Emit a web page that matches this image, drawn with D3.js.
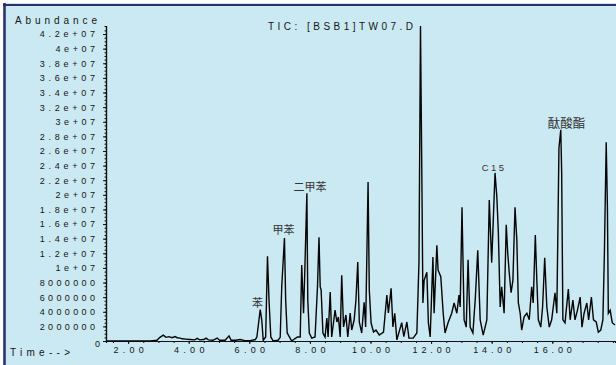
<!DOCTYPE html>
<html>
<head>
<meta charset="utf-8">
<script src="https://cdn.jsdelivr.net/npm/d3@7"></script>
<style>
  body { margin: 0; background: #fff; }
  svg { display: block; }
  .axis text { font-family: "Liberation Sans", Arial, sans-serif; font-size: 9px; fill: #151515; }
  .axis path, .axis line { stroke: #111; }
</style>
</head>
<body>
<div id="chart"></div>
<script>
// retention time (min) and abundance (millions of counts)
const retentionTime = [
  1.27, 2.73, 2.95, 3.05, 3.16, 3.25, 3.35, 3.45, 3.55, 3.62, 3.72, 3.78, 3.90, 4.05, 4.20, 4.28, 4.36, 4.50, 4.57, 4.65,
  4.80, 4.94, 5.02, 5.20, 5.33, 5.40, 5.55, 5.70, 5.85, 6.03, 6.20, 6.25, 6.36, 6.41, 6.46, 6.54, 6.60, 6.65, 6.71, 6.79,
  6.95, 7.02, 7.07, 7.16, 7.20, 7.25, 7.40, 7.50, 7.59, 7.68, 7.73, 7.79, 7.83, 7.90, 7.93, 7.98, 8.06, 8.17, 8.25, 8.30,
  8.34, 8.37, 8.43, 8.50, 8.56, 8.60, 8.67, 8.72, 8.83, 8.89, 8.94, 9.00, 9.05, 9.11, 9.19, 9.25, 9.33, 9.38, 9.46, 9.52,
  9.58, 9.63, 9.71, 9.79, 9.84, 9.92, 9.96, 10.02, 10.10, 10.18, 10.29, 10.43, 10.54, 10.59, 10.68, 10.74, 10.80, 10.87, 11.03, 11.10,
  11.20, 11.27, 11.41, 11.53, 11.60, 11.65, 11.70, 11.73, 11.77, 11.86, 11.91, 11.97, 12.06, 12.10, 12.19, 12.23, 12.32, 12.40, 12.46, 12.56,
  12.68, 12.76, 12.85, 12.92, 12.96, 13.02, 13.09, 13.16, 13.22, 13.29, 13.38, 13.46, 13.54, 13.62, 13.72, 13.84, 13.92, 14.00, 14.11, 14.17,
  14.22, 14.28, 14.33, 14.41, 14.48, 14.53, 14.58, 14.64, 14.70, 14.77, 14.83, 14.88, 14.94, 14.99, 15.07, 15.16, 15.24, 15.32, 15.37, 15.44,
  15.49, 15.54, 15.62, 15.68, 15.75, 15.82, 15.90, 15.98, 16.09, 16.15, 16.22, 16.28, 16.31, 16.35, 16.42, 16.53, 16.59, 16.68, 16.75, 16.83,
  16.92, 16.98, 17.05, 17.14, 17.20, 17.29, 17.36, 17.45, 17.52, 17.60, 17.67, 17.72, 17.78, 17.82, 17.85, 17.91, 17.98, 18.07
];
const abundanceM = [
  0, 0, 0.1, 0.5, 0.8, 0.5, 0.6, 0.45, 0.6, 0.45, 0.4, 0.3, 0.25, 0.2, 0.15, 0.35, 0.15, 0.2, 0.4, 0.15,
  0.1, 0.4, 0.1, 0.1, 0.7, 0.1, 0.1, 0.2, 0.05, 0.05, 0.2, 0.55, 4.3, 2.9, 0.1, 0.55, 11.6, 5.6, 0.55, 0,
  0.1, 0.5, 7.4, 14.1, 5.6, 1.1, 0, 0.3, 0.55, 0.55, 10.4, 3.8, 9.3, 20.2, 5.6, 1.1, 0.4, 0.55, 7.4, 14.2,
  7.4, 7.0, 1.1, 0.55, 3.15, 0.55, 6.7, 0.55, 4.24, 2.6, 3.28, 0.55, 9.0, 1.92, 3.56, 0.55, 3.83, 1.5, 2.87, 5.6,
  10.8, 2.6, 1.09, 5.3, 1.92, 21.75, 6.98, 2.46, 1.23, 1.5, 0.82, 1.23, 6.3, 3.83, 7.2, 1.92, 3.8, 0.15, 2.5, 0.6,
  2.6, 0.4, 0.4, 1.1, 10.8, 43.1, 20.0, 5.2, 8.3, 9.4, 2.5, 0.55, 11.5, 3.8, 13.1, 9.7, 8.8, 3.8, 1.1, 2.5,
  3.8, 5.2, 3.8, 6.3, 4.65, 18.3, 2.9, 1.9, 11.1, 1.9, 1.1, 5.9, 12.4, 2.9, 0.8, 2.9, 19.3, 10.7, 23.0, 19.7,
  14.8, 4.65, 7.4, 3.8, 15.9, 12.0, 9.3, 6.6, 8.3, 18.3, 13.8, 5.2, 3.8, 1.5, 3.3, 3.8, 2.9, 7.4, 5.2, 14.5,
  8.3, 2.9, 1.9, 4.65, 11.4, 4.65, 1.9, 2.9, 6.6, 3.8, 26.4, 28.9, 23.0, 2.9, 2.5, 7.1, 2.9, 5.6, 2.9, 4.2,
  6.0, 1.9, 3.8, 5.2, 2.9, 6.0, 2.9, 2.6, 1.2, 1.5, 2.9, 12.0, 27.2, 18.3, 3.8, 4.2, 2.5, 2.2
];

const yTickValues = d3.range(0, 44e6, 2e6);
const yTickLabels = ["0", "2000000", "4000000", "6000000", "8000000", "1e+07", "1.2e+07", "1.4e+07",
  "1.6e+07", "1.8e+07", "2e+07", "2.2e+07", "2.4e+07", "2.6e+07", "2.8e+07", "3e+07", "3.2e+07",
  "3.4e+07", "3.6e+07", "3.8e+07", "4e+07", "4.2e+07"];
const xTickValues = [2, 4, 6, 8, 10, 12, 14, 16];

// compound labels: text, time and level (millions) of the label centre
const peakNames = ["苯", "甲苯", "二甲苯", "C15", "酞酸酯"];
const peakTimes = [6.27, 7.13, 8.0, 14.08, 16.47];
const peakLevels = [5.2, 15.2, 21.1, 23.7, 29.7];

const width = 616, height = 365;
const svg = d3.select('#chart').append('svg')
    .attr('width', width)
    .attr('height', height);

// panel background + navy frame on left / top
svg.append('rect')
    .attr('x', 3).attr('y', 3)
    .attr('width', width - 3).attr('height', height - 3)
    .attr('fill', '#cbe9f2');
svg.append('line').attr('x1', 4.5).attr('x2', 4.5).attr('y1', 3).attr('y2', height)
    .attr('stroke', '#2c2f6b').attr('stroke-width', 2.5);
svg.append('line').attr('x1', 3).attr('x2', width).attr('y1', 5).attr('y2', 5)
    .attr('stroke', '#2c2f6b').attr('stroke-width', 2);

const x = d3.scaleLinear().domain([1.27, 18.07]).range([106, 615]);
const y = d3.scaleLinear().domain([0, 43.1e6]).range([341, 26]);

// minor ticks first, then the labelled axes
svg.append('g').attr('class', 'axis')
    .attr('transform', 'translate(106,0)')
    .call(d3.axisLeft(y).tickValues(d3.range(0, 43e6, 5e5)).tickSize(1.5).tickFormat(''));
svg.append('g').attr('class', 'axis')
    .attr('transform', 'translate(0,341)')
    .call(d3.axisBottom(x).tickValues(d3.range(1.5, 18.1, 0.5)).tickSize(2).tickFormat(''));

const yAxis = svg.append('g').attr('class', 'axis')
    .attr('transform', 'translate(106,0)')
    .call(d3.axisLeft(y)
        .tickValues(yTickValues)
        .tickFormat((d, i) => yTickLabels[i])
        .tickSize(3)
        .tickSizeOuter(0)
        .tickPadding(8));
// the ChemStation font is wide and loosely spaced
yAxis.selectAll('.tick text')
    .attr('textLength', function() { return this.textContent.length * 7.9; })
    .attr('lengthAdjust', 'spacing');
yAxis.selectAll('.tick').filter(d => d === 0).select('text')
    .attr('x', -6).attr('dy', '0.6em');

const xAxis = svg.append('g').attr('class', 'axis')
    .attr('transform', 'translate(0,341)')
    .call(d3.axisBottom(x)
        .tickValues(xTickValues)
        .tickFormat(d3.format('.2f'))
        .tickSize(3)
        .tickSizeOuter(0)
        .tickPadding(3));
xAxis.selectAll('.tick text')
    .attr('textLength', function() { return this.textContent.length * 7.6; })
    .attr('lengthAdjust', 'spacing');
svg.selectAll('.axis path').attr('stroke-width', 1.2);

// the trace
const points = d3.zip(retentionTime, abundanceM);
const line = d3.line()
    .x(d => x(d[0]))
    .y(d => y(d[1] * 1e6));

svg.append('path')
    .datum(points)
    .attr('fill', 'none')
    .attr('stroke', '#050505')
    .attr('stroke-width', 1.4)
    .attr('stroke-linejoin', 'miter')
    .attr('d', line);

// titles
const sans = '"Liberation Sans", Arial, sans-serif';
svg.append('text')
    .attr('x', 268).attr('y', 30)
    .attr('textLength', 145).attr('lengthAdjust', 'spacing')
    .style('font-family', sans).style('font-size', '10px').style('fill', '#151515')
    .text('TIC: [BSB1]TW07.D');
svg.append('text')
    .attr('x', 15).attr('y', 24)
    .attr('textLength', 82).attr('lengthAdjust', 'spacing')
    .style('font-family', sans).style('font-size', '10px').style('fill', '#151515')
    .text('Abundance');
svg.append('text')
    .attr('x', 10).attr('y', 356)
    .attr('textLength', 60).attr('lengthAdjust', 'spacing')
    .style('font-family', sans).style('font-size', '10px').style('fill', '#151515')
    .text('Time-->');

// compound labels
svg.append('g')
    .selectAll('text')
    .data(peakNames)
    .enter().append('text')
    .attr('x', (d, i) => x(peakTimes[i]))
    .attr('y', (d, i) => y(peakLevels[i] * 1e6))
    .attr('dy', '0.35em')
    .attr('text-anchor', 'middle')
    .style('font-family', d => d === 'C15' ? sans : '"Noto Sans CJK SC", sans-serif')
    .style('font-size', (d, i) => d === 'C15' ? '9.5px' : (i === 4 ? '12.5px' : '11px'))
    .style('letter-spacing', d => d === 'C15' ? '2.5px' : '0px')
    .style('fill', '#333')
    .text(d => d);
</script>
</body>
</html>
